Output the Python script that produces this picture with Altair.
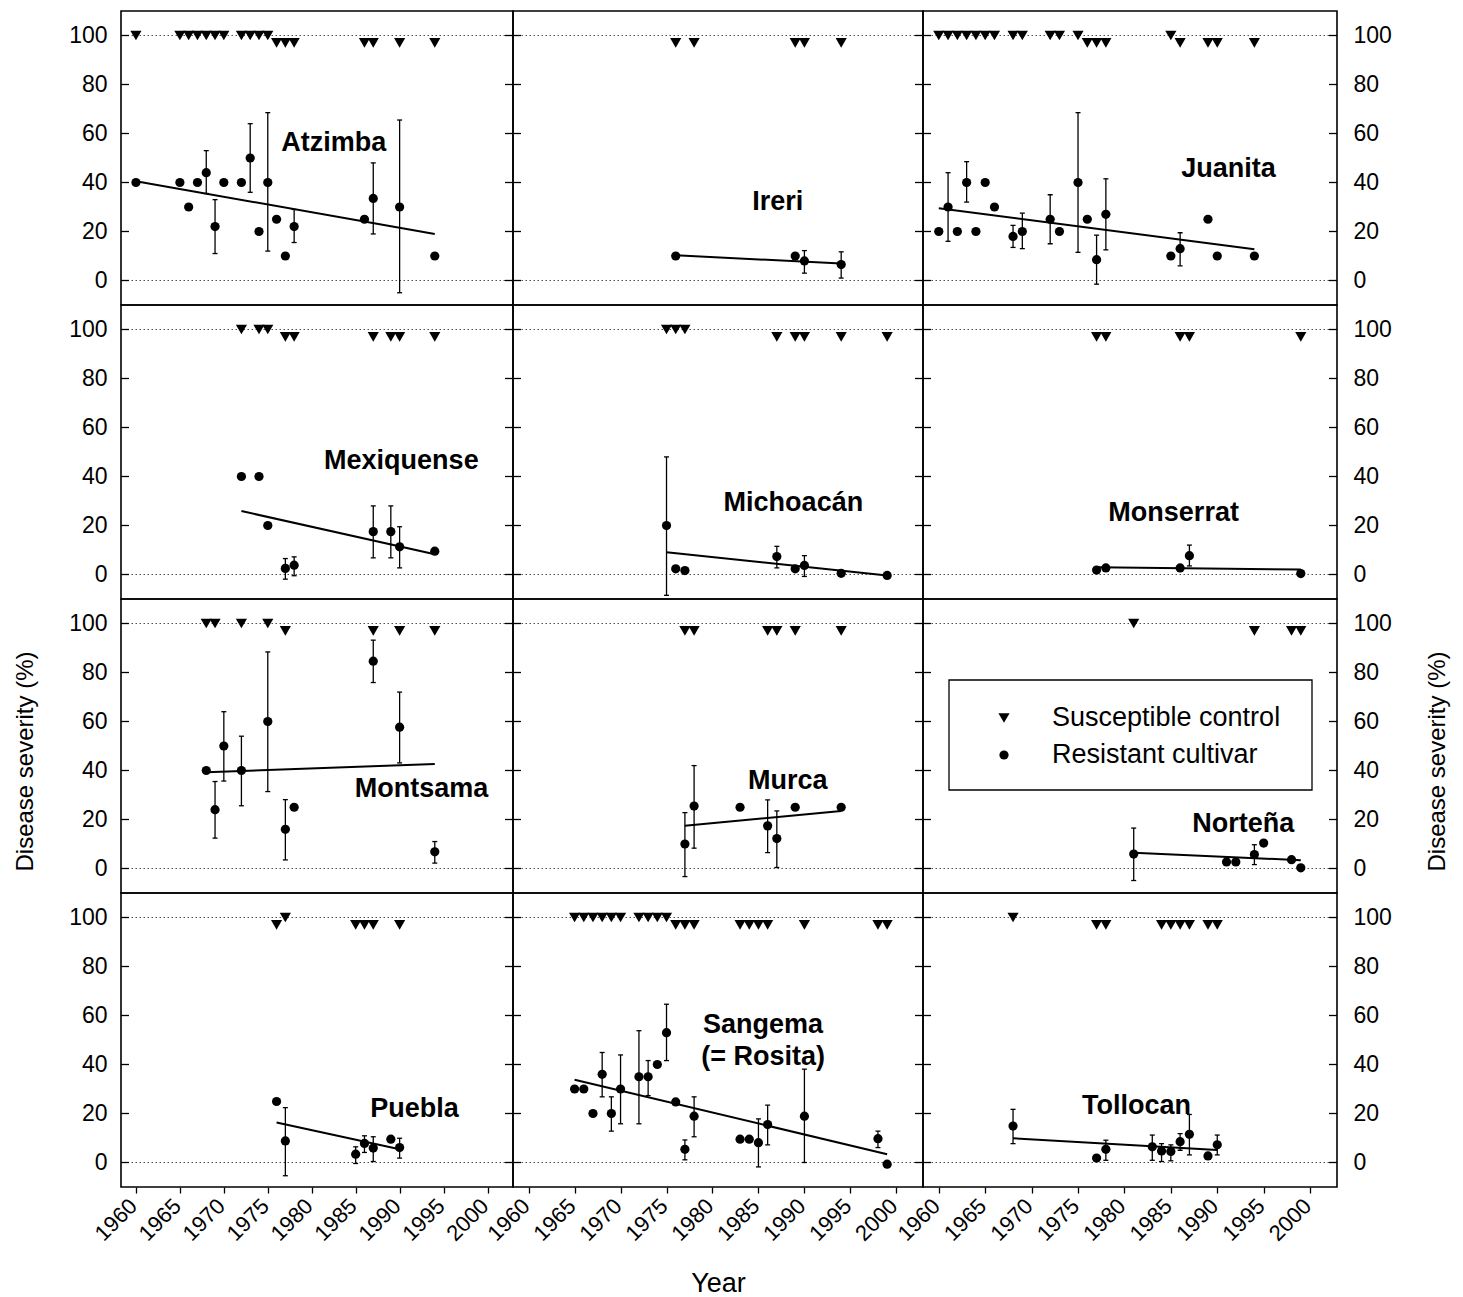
import altair as alt
import pandas as pd

FONT = "Liberation Sans"

# ---------------- axes ----------------
X_DOMAIN = [1958.3, 2002.9]
Y_DOMAIN = [-10, 110]
X_TICKS = [1960, 1965, 1970, 1975, 1980, 1985, 1990, 1995, 2000]
Y_TICKS = [0, 20, 40, 60, 80, 100]
REF_LINES = [0, 100]

LEGEND_LABELS = ["Susceptible control", "Resistant cultivar"]

# ---------------- data ----------------
# Atzimba
ATZ_CTRL_YEARS = [1960, 1965, 1966, 1967, 1968, 1969, 1970, 1972, 1973, 1974, 1975, 1976, 1977, 1978, 1986, 1987, 1990, 1994]
ATZ_CTRL_VALS = [100, 100, 100, 100, 100, 100, 100, 100, 100, 100, 100, 97, 97, 97, 97, 97, 97, 97]
ATZ_RES_YEARS = [1960, 1965, 1966, 1967, 1968, 1969, 1970, 1972, 1973, 1974, 1975, 1976, 1977, 1978, 1986, 1987, 1990, 1994]
ATZ_RES_VALS = [40, 40, 30, 40, 44, 22, 40, 40, 50, 20, 40, 25, 10, 22, 25, 33.5, 30, 10]
ATZ_ERR_YEARS = [1968, 1969, 1973, 1975, 1978, 1987, 1990]
ATZ_ERR_LO = [35.5, 11, 36, 12, 15.5, 19, -5]
ATZ_ERR_HI = [53, 33, 64, 68.5, 29, 48, 65.5]
ATZ_FIT_YEARS = [1960, 1994]
ATZ_FIT_VALS = [40.5, 19]

# Ireri
IRE_CTRL_YEARS = [1976, 1978, 1989, 1990, 1994]
IRE_CTRL_VALS = [97, 97, 97, 97, 97]
IRE_RES_YEARS = [1976, 1989, 1990, 1994]
IRE_RES_VALS = [10, 10, 8, 6.5]
IRE_ERR_YEARS = [1990, 1994]
IRE_ERR_LO = [3, 1]
IRE_ERR_HI = [12.2, 11.7]
IRE_FIT_YEARS = [1976, 1994]
IRE_FIT_VALS = [10.3, 6.9]

# Juanita
JUA_CTRL_YEARS = [1960, 1961, 1962, 1963, 1964, 1965, 1966, 1968, 1969, 1972, 1973, 1975, 1976, 1977, 1978, 1985, 1986, 1989, 1990, 1994]
JUA_CTRL_VALS = [100, 100, 100, 100, 100, 100, 100, 100, 100, 100, 100, 100, 97, 97, 97, 100, 97, 97, 97, 97]
JUA_RES_YEARS = [1960, 1961, 1962, 1963, 1964, 1965, 1966, 1968, 1969, 1972, 1973, 1975, 1976, 1977, 1978, 1985, 1986, 1989, 1990, 1994]
JUA_RES_VALS = [20, 30, 20, 40, 20, 40, 30, 18, 20, 25, 20, 40, 25, 8.5, 27, 10, 13, 25, 10, 10]
JUA_ERR_YEARS = [1961, 1963, 1968, 1969, 1972, 1975, 1977, 1978, 1986]
JUA_ERR_LO = [16, 32, 13.5, 13, 15, 11.5, -1.5, 12.5, 6]
JUA_ERR_HI = [44, 48.5, 22.5, 27.5, 35, 68.5, 18.5, 41.5, 19.5]
JUA_FIT_YEARS = [1960, 1994]
JUA_FIT_VALS = [29.5, 12.8]

# Mexiquense
MEX_CTRL_YEARS = [1972, 1974, 1975, 1977, 1978, 1987, 1989, 1990, 1994]
MEX_CTRL_VALS = [100, 100, 100, 97, 97, 97, 97, 97, 97]
MEX_RES_YEARS = [1972, 1974, 1975, 1977, 1978, 1987, 1989, 1990, 1994]
MEX_RES_VALS = [40, 40, 20, 2.5, 3.8, 17.5, 17.5, 11.3, 9.5]
MEX_ERR_YEARS = [1977, 1978, 1987, 1989, 1990]
MEX_ERR_LO = [-1.9, -0.5, 6.8, 6.8, 2.7]
MEX_ERR_HI = [6.5, 7.2, 28, 28, 19.5]
MEX_FIT_YEARS = [1972, 1994]
MEX_FIT_VALS = [25.9, 8.3]

# Michoacán
MIC_CTRL_YEARS = [1975, 1976, 1977, 1987, 1989, 1990, 1994, 1999]
MIC_CTRL_VALS = [100, 100, 100, 97, 97, 97, 97, 97]
MIC_RES_YEARS = [1975, 1976, 1977, 1987, 1989, 1990, 1994, 1999]
MIC_RES_VALS = [20, 2.3, 1.6, 7.3, 2.3, 3.7, 0.5, -0.4]
MIC_ERR_YEARS = [1975, 1987, 1990]
MIC_ERR_LO = [-8.5, 2.7, -0.8]
MIC_ERR_HI = [48, 11.5, 7.7]
MIC_FIT_YEARS = [1975, 1999]
MIC_FIT_VALS = [9.1, -0.4]

# Monserrat
MON_CTRL_YEARS = [1977, 1978, 1986, 1987, 1999]
MON_CTRL_VALS = [97, 97, 97, 97, 97]
MON_RES_YEARS = [1977, 1978, 1986, 1987, 1999]
MON_RES_VALS = [1.8, 2.7, 2.7, 7.7, 0.4]
MON_ERR_YEARS = [1987]
MON_ERR_LO = [3.5]
MON_ERR_HI = [12]
MON_FIT_YEARS = [1977, 1999]
MON_FIT_VALS = [3.0, 2.0]

# Montsama
MTS_CTRL_YEARS = [1968, 1969, 1972, 1975, 1977, 1987, 1990, 1994]
MTS_CTRL_VALS = [100, 100, 100, 100, 97, 97, 97, 97]
MTS_RES_YEARS = [1968, 1969, 1970, 1972, 1975, 1977, 1978, 1987, 1990, 1994]
MTS_RES_VALS = [40, 24, 50, 40, 60, 16, 25, 84.6, 57.7, 6.8]
MTS_ERR_YEARS = [1969, 1970, 1972, 1975, 1977, 1987, 1990, 1994]
MTS_ERR_LO = [12.4, 35.7, 25.6, 31.4, 3.5, 75.9, 43.1, 2.2]
MTS_ERR_HI = [35.5, 64, 54, 88.4, 28.1, 93.2, 72, 11]
MTS_FIT_YEARS = [1968, 1994]
MTS_FIT_VALS = [39.3, 42.7]

# Murca
MUR_CTRL_YEARS = [1977, 1978, 1986, 1987, 1989, 1994]
MUR_CTRL_VALS = [97, 97, 97, 97, 97, 97]
MUR_RES_YEARS = [1977, 1978, 1983, 1986, 1987, 1989, 1994]
MUR_RES_VALS = [10, 25.5, 25, 17.4, 12.2, 25, 25]
MUR_ERR_YEARS = [1977, 1978, 1986, 1987]
MUR_ERR_LO = [-3.3, 8.3, 6.5, 0.4]
MUR_ERR_HI = [22.8, 42, 28, 23.5]
MUR_FIT_YEARS = [1977, 1994]
MUR_FIT_VALS = [17.4, 23.5]

# Norteña
NOR_CTRL_YEARS = [1981, 1994, 1998, 1999]
NOR_CTRL_VALS = [100, 97, 97, 97]
NOR_RES_YEARS = [1981, 1991, 1992, 1994, 1995, 1998, 1999]
NOR_RES_VALS = [5.9, 2.7, 2.7, 5.7, 10.4, 3.6, 0.3]
NOR_ERR_YEARS = [1981, 1994]
NOR_ERR_LO = [-4.9, 1.6]
NOR_ERR_HI = [16.5, 9.7]
NOR_FIT_YEARS = [1981, 1999]
NOR_FIT_VALS = [6.4, 3.4]

# Puebla
PUE_CTRL_YEARS = [1976, 1977, 1985, 1986, 1987, 1990]
PUE_CTRL_VALS = [97, 100, 97, 97, 97, 97]
PUE_RES_YEARS = [1976, 1977, 1985, 1986, 1987, 1989, 1990]
PUE_RES_VALS = [24.9, 8.8, 3.4, 7.8, 5.9, 9.5, 6.1]
PUE_ERR_YEARS = [1977, 1985, 1986, 1987, 1990]
PUE_ERR_LO = [-5.4, -0.4, 4.1, 0.4, 1.8]
PUE_ERR_HI = [22.4, 6.4, 10.9, 10.5, 9.9]
PUE_FIT_YEARS = [1976, 1990]
PUE_FIT_VALS = [16.3, 5.4]

# Sangema (= Rosita)
SAN_CTRL_YEARS = [1965, 1966, 1967, 1968, 1969, 1970, 1972, 1973, 1974, 1975, 1976, 1977, 1978, 1983, 1984, 1985, 1986, 1990, 1998, 1999]
SAN_CTRL_VALS = [100, 100, 100, 100, 100, 100, 100, 100, 100, 100, 97, 97, 97, 97, 97, 97, 97, 97, 97, 97]
SAN_RES_YEARS = [1965, 1966, 1967, 1968, 1969, 1970, 1972, 1973, 1974, 1975, 1976, 1977, 1978, 1983, 1984, 1985, 1986, 1990, 1998, 1999]
SAN_RES_VALS = [30, 30, 20, 36, 20, 30, 35, 35, 40, 53, 24.7, 5.4, 18.9, 9.5, 9.5, 8.1, 15.5, 18.9, 9.7, -0.7]
SAN_ERR_YEARS = [1968, 1969, 1970, 1972, 1973, 1975, 1977, 1978, 1985, 1986, 1990, 1998]
SAN_ERR_LO = [26.8, 12.8, 15.8, 15.8, 27.3, 41.6, 1.1, 10.5, -1.8, 7.2, 0, 6.1]
SAN_ERR_HI = [44.9, 26.8, 43.9, 53.8, 41.6, 64.6, 9.2, 26.8, 17.8, 23.4, 38.1, 12.8]
SAN_FIT_YEARS = [1965, 1999]
SAN_FIT_VALS = [33.8, 3.4]

# Tollocan
TOL_CTRL_YEARS = [1968, 1977, 1978, 1984, 1985, 1986, 1987, 1989, 1990]
TOL_CTRL_VALS = [100, 97, 97, 97, 97, 97, 97, 97, 97]
TOL_RES_YEARS = [1968, 1977, 1978, 1983, 1984, 1985, 1986, 1987, 1989, 1990]
TOL_RES_VALS = [14.9, 1.8, 5.4, 6.4, 4.7, 4.5, 8.5, 11.5, 2.7, 7.2]
TOL_ERR_YEARS = [1968, 1978, 1983, 1984, 1985, 1986, 1987, 1990]
TOL_ERR_LO = [7.7, 0.9, 0.9, 0.4, 0.7, 5, 3.1, 3.1]
TOL_ERR_HI = [21.7, 9.1, 11.2, 7.7, 7.2, 11.8, 19.6, 11.2]
TOL_FIT_YEARS = [1968, 1990]
TOL_FIT_VALS = [9.9, 5.1]

# panel names (text lines) in reading order
PANEL_NAMES = [
    ["Atzimba"], ["Ireri"], ["Juanita"],
    ["Mexiquense"], ["Michoacán"], ["Monserrat"],
    ["Montsama"], ["Murca"], ["Norteña"],
    ["Puebla"], ["Sangema", "(= Rosita)"], ["Tollocan"],
]

PANEL_DATA = [
    (ATZ_CTRL_YEARS, ATZ_CTRL_VALS, ATZ_RES_YEARS, ATZ_RES_VALS, ATZ_ERR_YEARS, ATZ_ERR_LO, ATZ_ERR_HI, ATZ_FIT_YEARS, ATZ_FIT_VALS),
    (IRE_CTRL_YEARS, IRE_CTRL_VALS, IRE_RES_YEARS, IRE_RES_VALS, IRE_ERR_YEARS, IRE_ERR_LO, IRE_ERR_HI, IRE_FIT_YEARS, IRE_FIT_VALS),
    (JUA_CTRL_YEARS, JUA_CTRL_VALS, JUA_RES_YEARS, JUA_RES_VALS, JUA_ERR_YEARS, JUA_ERR_LO, JUA_ERR_HI, JUA_FIT_YEARS, JUA_FIT_VALS),
    (MEX_CTRL_YEARS, MEX_CTRL_VALS, MEX_RES_YEARS, MEX_RES_VALS, MEX_ERR_YEARS, MEX_ERR_LO, MEX_ERR_HI, MEX_FIT_YEARS, MEX_FIT_VALS),
    (MIC_CTRL_YEARS, MIC_CTRL_VALS, MIC_RES_YEARS, MIC_RES_VALS, MIC_ERR_YEARS, MIC_ERR_LO, MIC_ERR_HI, MIC_FIT_YEARS, MIC_FIT_VALS),
    (MON_CTRL_YEARS, MON_CTRL_VALS, MON_RES_YEARS, MON_RES_VALS, MON_ERR_YEARS, MON_ERR_LO, MON_ERR_HI, MON_FIT_YEARS, MON_FIT_VALS),
    (MTS_CTRL_YEARS, MTS_CTRL_VALS, MTS_RES_YEARS, MTS_RES_VALS, MTS_ERR_YEARS, MTS_ERR_LO, MTS_ERR_HI, MTS_FIT_YEARS, MTS_FIT_VALS),
    (MUR_CTRL_YEARS, MUR_CTRL_VALS, MUR_RES_YEARS, MUR_RES_VALS, MUR_ERR_YEARS, MUR_ERR_LO, MUR_ERR_HI, MUR_FIT_YEARS, MUR_FIT_VALS),
    (NOR_CTRL_YEARS, NOR_CTRL_VALS, NOR_RES_YEARS, NOR_RES_VALS, NOR_ERR_YEARS, NOR_ERR_LO, NOR_ERR_HI, NOR_FIT_YEARS, NOR_FIT_VALS),
    (PUE_CTRL_YEARS, PUE_CTRL_VALS, PUE_RES_YEARS, PUE_RES_VALS, PUE_ERR_YEARS, PUE_ERR_LO, PUE_ERR_HI, PUE_FIT_YEARS, PUE_FIT_VALS),
    (SAN_CTRL_YEARS, SAN_CTRL_VALS, SAN_RES_YEARS, SAN_RES_VALS, SAN_ERR_YEARS, SAN_ERR_LO, SAN_ERR_HI, SAN_FIT_YEARS, SAN_FIT_VALS),
    (TOL_CTRL_YEARS, TOL_CTRL_VALS, TOL_RES_YEARS, TOL_RES_VALS, TOL_ERR_YEARS, TOL_ERR_LO, TOL_ERR_HI, TOL_FIT_YEARS, TOL_FIT_VALS),
]

# ---------------- layout / style (not data) ----------------
COL_WIDTHS = [392, 410, 414]
ROW_HEIGHT = 294
# name label anchor (year, severity) per panel
LABEL_ANCHORS = [
    (1982.5, 56), (1987.1, 32), (1991.2, 45.5),
    (1990.2, 46.5), (1988.8, 29), (1985.3, 25),
    (1992.5, 32.5), (1988.2, 35.7), (1992.8, 18),
    (1991.7, 22), (1985.5, 56), (1981.3, 23),
]
LABEL_LINE_STEP = 13
TICK_IN = 8
LABEL_SIZE = 27
AXIS_LABEL_SIZE = 23
AXIS_TITLE_SIZE = 24
TRI_SIZE = 125
DOT_SIZE = 85


def make_panel(i):
    row, col = divmod(i, 3)
    w = COL_WIDTHS[col]
    cy, cv, ry, rv, ey, elo, ehi, fy, fv = PANEL_DATA[i]

    xscale = alt.Scale(domain=X_DOMAIN, nice=False, zero=False)
    yscale = alt.Scale(domain=Y_DOMAIN, nice=False, zero=False)

    if row == 3:
        xaxis = alt.Axis(values=X_TICKS, format="d", labelAngle=-45, tickSize=6,
                         tickColor="black", tickWidth=1.3, domain=False, grid=False,
                         labelFontSize=22, labelPadding=2, labelOffset=-10, labelColor="black",
                         labelOverlap=False, labelBound=False, labelFlush=False,
                         title=("Year" if col == 1 else None), titleFontSize=27,
                         titleFontWeight="normal", titleColor="black", titlePadding=26)
    else:
        xaxis = None

    ytitle = "Disease severity (%)" if row == 2 else None
    if col == 0:
        yaxis = alt.Axis(orient="left", values=Y_TICKS, ticks=False, domain=False, grid=False,
                         labelFontSize=AXIS_LABEL_SIZE, labelPadding=14, labelColor="black",
                         title=ytitle, titleFontSize=AXIS_TITLE_SIZE, titleFontWeight="normal",
                         titleColor="black", titlePadding=31, titleY=162)
    elif col == 2:
        yaxis = alt.Axis(orient="right", values=Y_TICKS, ticks=False, domain=False, grid=False,
                         labelFontSize=AXIS_LABEL_SIZE, labelPadding=16, labelColor="black",
                         title=ytitle, titleFontSize=AXIS_TITLE_SIZE, titleFontWeight="normal",
                         titleColor="black", titlePadding=58, titleY=162, titleAngle=270)
    else:
        yaxis = None

    def X(f):
        return alt.X(f + ":Q", scale=xscale, axis=xaxis)

    def Y(f):
        return alt.Y(f + ":Q", scale=yscale, axis=yaxis)

    ref_df = pd.DataFrame({"v": REF_LINES})
    tick_df = pd.DataFrame({"v": Y_TICKS})
    err_df = pd.DataFrame({"year": ey, "lo": elo, "hi": ehi})
    fit_df = pd.DataFrame({"year": fy, "val": fv})
    ctrl_df = pd.DataFrame({"year": cy, "val": cv})
    res_df = pd.DataFrame({"year": ry, "val": rv})
    ax, av = LABEL_ANCHORS[i]
    names = PANEL_NAMES[i]
    lab_df = pd.DataFrame({
        "t": names,
        "year": [ax] * len(names),
        "val": [av - k * LABEL_LINE_STEP for k in range(len(names))],
    })

    layers = [
        alt.Chart(ref_df).mark_rule(color="#3a3a3a", strokeWidth=0.9, strokeDash=[1.5, 2.5]).encode(y=Y("v")),
        alt.Chart(tick_df).mark_rule(color="black", strokeWidth=1.3).encode(
            y=Y("v"), x=alt.value(0), x2=alt.value(TICK_IN)),
        alt.Chart(tick_df).mark_rule(color="black", strokeWidth=1.3).encode(
            y=Y("v"), x=alt.value(w - TICK_IN), x2=alt.value(w)),
        alt.Chart(err_df).mark_rule(color="black", strokeWidth=1.3).encode(
            x=X("year"), y=Y("lo"), y2=alt.Y2("hi:Q")),
        alt.Chart(err_df).mark_tick(orient="horizontal", color="black", size=5, thickness=1.3, opacity=1).encode(
            x=X("year"), y=Y("lo")),
        alt.Chart(err_df).mark_tick(orient="horizontal", color="black", size=5, thickness=1.3, opacity=1).encode(
            x=X("year"), y=Y("hi")),
        alt.Chart(fit_df).mark_line(color="black", strokeWidth=2).encode(x=X("year"), y=Y("val")),
        alt.Chart(ctrl_df).mark_point(shape="triangle-down", filled=True, size=TRI_SIZE, color="black", opacity=1).encode(
            x=X("year"), y=Y("val")),
        alt.Chart(res_df).mark_circle(size=DOT_SIZE, color="black", opacity=1).encode(x=X("year"), y=Y("val")),
        alt.Chart(lab_df).mark_text(font=FONT, fontSize=LABEL_SIZE, fontWeight="bold", color="black",
                                    align="center", baseline="middle").encode(
            x=X("year"), y=Y("val"), text="t:N"),
    ]

    if i == 8:  # legend box drawn inside the Norteña panel
        one = pd.DataFrame({"k": [0]})
        leg_df = pd.DataFrame({"t": LEGEND_LABELS})
        layers += [
            alt.Chart(one).mark_rect(fill="white", stroke="black", strokeWidth=1.3).encode(
                x=alt.value(26), x2=alt.value(389), y=alt.value(81), y2=alt.value(191)),
            alt.Chart(one).mark_point(shape="triangle-down", filled=True, size=TRI_SIZE, color="black", opacity=1).encode(
                x=alt.value(81), y=alt.value(119)),
            alt.Chart(one).mark_circle(size=DOT_SIZE, color="black", opacity=1).encode(
                x=alt.value(81), y=alt.value(156)),
            alt.Chart(leg_df.iloc[[0]]).mark_text(font=FONT, fontSize=27, color="black", align="left",
                                                  baseline="middle").encode(
                x=alt.value(129), y=alt.value(119), text="t:N"),
            alt.Chart(leg_df.iloc[[1]]).mark_text(font=FONT, fontSize=27, color="black", align="left",
                                                  baseline="middle").encode(
                x=alt.value(129), y=alt.value(156), text="t:N"),
        ]

    return alt.layer(*layers).properties(width=w, height=ROW_HEIGHT)


panels = [make_panel(i) for i in range(12)]

chart = alt.concat(*panels, columns=3, spacing=0, bounds="flush").properties(
    padding={"left": 4, "top": 2, "right": 4, "bottom": 5},
    background="white",
).configure_view(
    stroke="black", strokeWidth=1.6
).configure_axis(
    labelFont=FONT, titleFont=FONT
).configure_text(font=FONT)

chart.save("out.html", embed_options={"renderer": "svg", "actions": False})
